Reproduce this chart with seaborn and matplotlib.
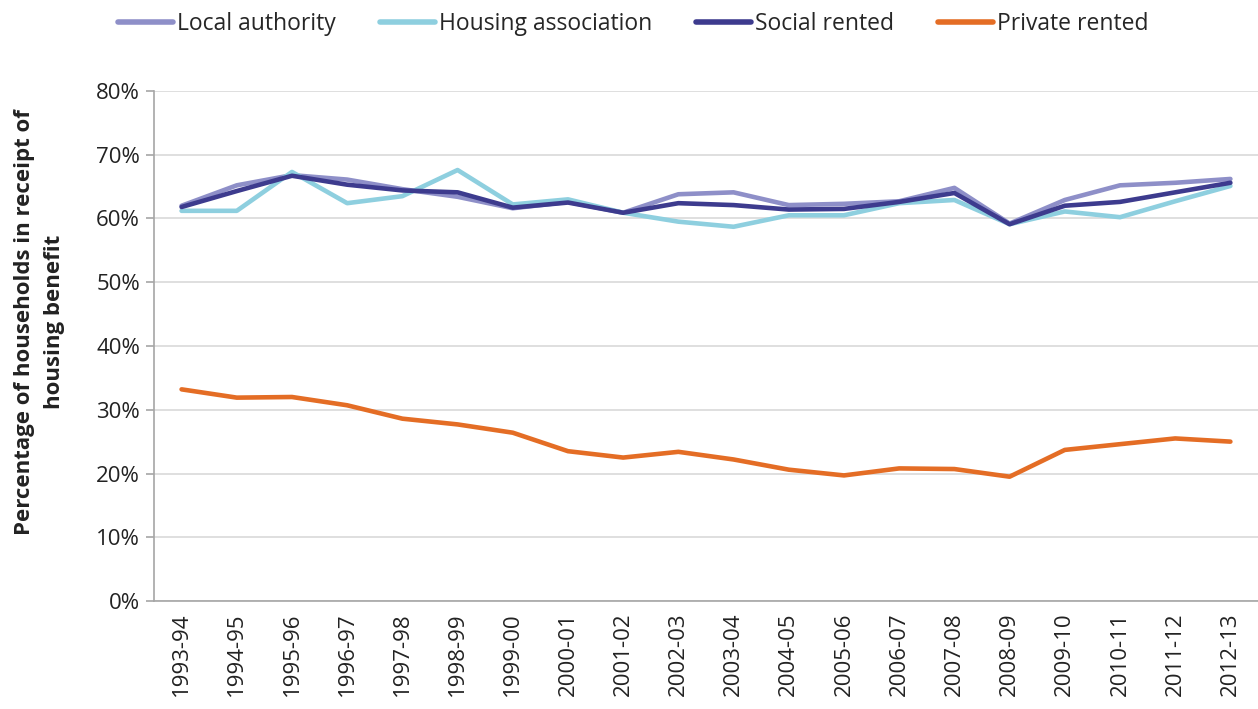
import matplotlib
matplotlib.use("Agg")
import matplotlib.pyplot as plt
from matplotlib.ticker import FixedLocator, FuncFormatter
import seaborn as sns
import pandas as pd

years = ["1993-94", "1994-95", "1995-96", "1996-97", "1997-98", "1998-99", "1999-00",
         "2000-01", "2001-02", "2002-03", "2003-04", "2004-05", "2005-06", "2006-07",
         "2007-08", "2008-09", "2009-10", "2010-11", "2011-12", "2012-13"]
local_authority = [62.0, 65.2, 66.8, 66.1, 64.6, 63.4, 61.6, 62.6, 60.9, 63.8, 64.1,
                   62.1, 62.3, 62.7, 64.8, 59.2, 62.9, 65.2, 65.6, 66.2]
housing_association = [61.2, 61.2, 67.3, 62.4, 63.5, 67.6, 62.2, 63.0, 60.9, 59.5, 58.7,
                       60.5, 60.5, 62.4, 62.9, 59.1, 61.1, 60.2, 62.7, 65.1]
social_rented = [61.8, 64.3, 66.7, 65.3, 64.4, 64.1, 61.7, 62.5, 60.9, 62.4, 62.1,
                 61.4, 61.5, 62.6, 64.0, 59.1, 62.0, 62.6, 64.1, 65.6]
private_rented = [33.2, 31.9, 32.0, 30.7, 28.6, 27.7, 26.4, 23.5, 22.5, 23.4, 22.2,
                  20.6, 19.7, 20.8, 20.7, 19.5, 23.7, 24.6, 25.5, 25.0]

series_names = ["Local authority", "Housing association", "Social rented", "Private rented"]
colors = ["#8e8fc8", "#8ecfdf", "#3d3b8e", "#e46d25"]
y_ticks = [0, 10, 20, 30, 40, 50, 60, 70, 80]

rows = []
for name, vals in zip(series_names, [local_authority, housing_association, social_rented, private_rented]):
    for y, v in zip(years, vals):
        rows.append({"year": y, "value": v, "series": name})
df = pd.DataFrame(rows)

sns.set_theme(style="white")
plt.rcParams["font.family"] = ["Open Sans", "DejaVu Sans"]

fig = plt.figure(figsize=(12.58, 7.09), dpi=100)
ax = fig.add_axes([0.1224, 0.1523, 0.8776, 0.7194])

sns.lineplot(data=df, x="year", y="value", hue="series", hue_order=series_names,
             palette=colors, linewidth=3.3, sort=False, ax=ax)

ax.set_xlim(-0.5, len(years) - 0.5)
ax.set_ylim(0, 80)
ax.yaxis.set_major_locator(FixedLocator(y_ticks))
ax.yaxis.set_major_formatter(FuncFormatter(lambda v, p: f"{v:.0f}%"))
ax.grid(axis="y", color="#d9d9d9", linewidth=1.2)
ax.set_axisbelow(True)

ax.set_xticks(range(len(years)))
ax.set_xticklabels(years, rotation=90, fontsize=16, color="#222222")
ax.set_xticks([i - 0.5 for i in range(len(years) + 1)], minor=True)
ax.tick_params(axis="x", which="major", length=0, pad=8)
ax.tick_params(axis="x", which="minor", length=6, width=1.2, color="#a6a6a6", direction="out")
ax.tick_params(axis="y", which="major", length=6, width=1.2, color="#a6a6a6", direction="out",
               labelsize=16, labelcolor="#222222", left=True, pad=4)

for s in ["top", "right"]:
    ax.spines[s].set_visible(False)
for s in ["left", "bottom"]:
    ax.spines[s].set_color("#a6a6a6")
    ax.spines[s].set_linewidth(1.2)

ax.set_xlabel("")
ax.set_ylabel("Percentage of households in receipt of\nhousing benefit", fontsize=16,
              fontweight="bold", color="#222222", linespacing=1.55)
ax.yaxis.set_label_coords(-0.081, 0.547)

handles, labels = ax.get_legend_handles_labels()
ax.get_legend().remove()
leg = fig.legend(handles, labels, loc="center", bbox_to_anchor=(0.5036, 0.966), ncol=4,
                 frameon=False, fontsize=16.5, handlelength=2.4, handletextpad=0.17,
                 columnspacing=1.92)
for line in leg.get_lines():
    line.set_linewidth(4)

fig.savefig("out.png", dpi=100)
